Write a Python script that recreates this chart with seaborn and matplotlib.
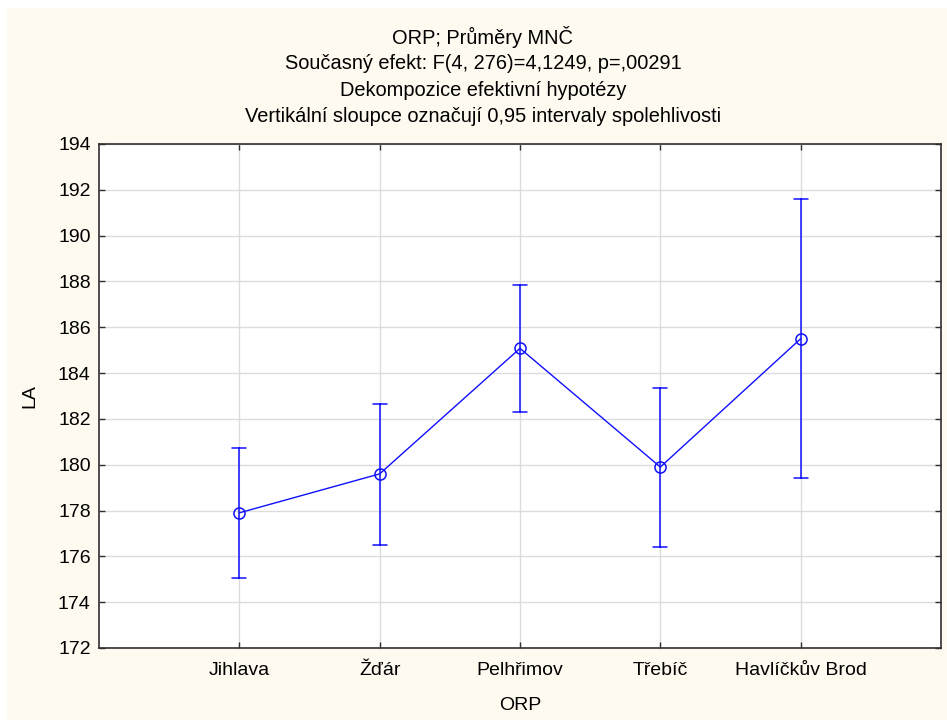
import matplotlib
matplotlib.use("Agg")
import matplotlib.pyplot as plt
import seaborn as sns
import pandas as pd
from matplotlib.patches import Rectangle

categories = ["Jihlava", "Žďár", "Pelhřimov", "Třebíč", "Havlíčkův Brod"]
means = [177.9, 179.6, 185.08, 179.9, 185.5]
lower = [175.05, 176.5, 182.3, 176.42, 179.42]
upper = [180.72, 182.66, 187.85, 183.33, 191.6]
yticks = list(range(172, 195, 2))
title_lines = [
    "ORP; Průměry MNČ",
    "Současný efekt: F(4, 276)=4,1249, p=,00291",
    "Dekompozice efektivní hypotézy",
    "Vertikální sloupce označují 0,95 intervaly spolehlivosti",
]

rows = []
for c, lo, m, hi in zip(categories, lower, means, upper):
    for v in (lo, m, hi):
        rows.append({"ORP": c, "LA": v})
df = pd.DataFrame(rows)

sns.set_theme(style="whitegrid")
plt.rcParams["font.family"] = ["Liberation Sans", "DejaVu Sans"]

fig = plt.figure(figsize=(9.47, 7.2), dpi=100, facecolor="white")
bg = Rectangle((7 / 947, 0), 1, 1 - 8 / 720, transform=fig.transFigure,
               facecolor="#FFFAF0", edgecolor="none", zorder=-10)
fig.patches.append(bg)

ax = fig.add_axes([99 / 947, 1 - 648 / 720, (941 - 99) / 947, (648 - 144) / 720])
ax.set_facecolor("white")

blue = "#1010FF"
sns.pointplot(data=df, x="ORP", y="LA", order=categories,
              estimator="median", errorbar=lambda x: (x.min(), x.max()),
              color=blue, capsize=0.1, markers="o",
              err_kws={"linewidth": 1.1}, linewidth=1.0,
              markersize=8, markerfacecolor="none", markeredgewidth=1.1,
              ax=ax)

ax.set_xlim(-1, 5)
ax.set_ylim(172, 194)
ax.set_yticks(yticks)
ax.set_yticklabels([str(t) for t in yticks])
ax.grid(True, color="#DCDCDC", linewidth=1.0)
ax.set_axisbelow(True)
for s in ax.spines.values():
    s.set_visible(True)
    s.set_color("#303030")
    s.set_linewidth(1.2)
ax.tick_params(axis="both", direction="in", length=4, width=1, color="#303030",
               labelsize=14, labelcolor="black", pad=6,
               left=True, bottom=True, right=True, top=True)
ax.tick_params(axis="x", pad=10)
ax.set_xlabel("ORP", fontsize=14, labelpad=13, color="black")
ax.set_ylabel("LA", fontsize=14, labelpad=14, color="black")

for i, line in enumerate(title_lines):
    fig.text(0.51, 1 - (37 + 26.5 * i) / 720, line, ha="center", va="center",
             fontsize=14.4, color="black")

fig.savefig("out.png", dpi=100, facecolor="white")
